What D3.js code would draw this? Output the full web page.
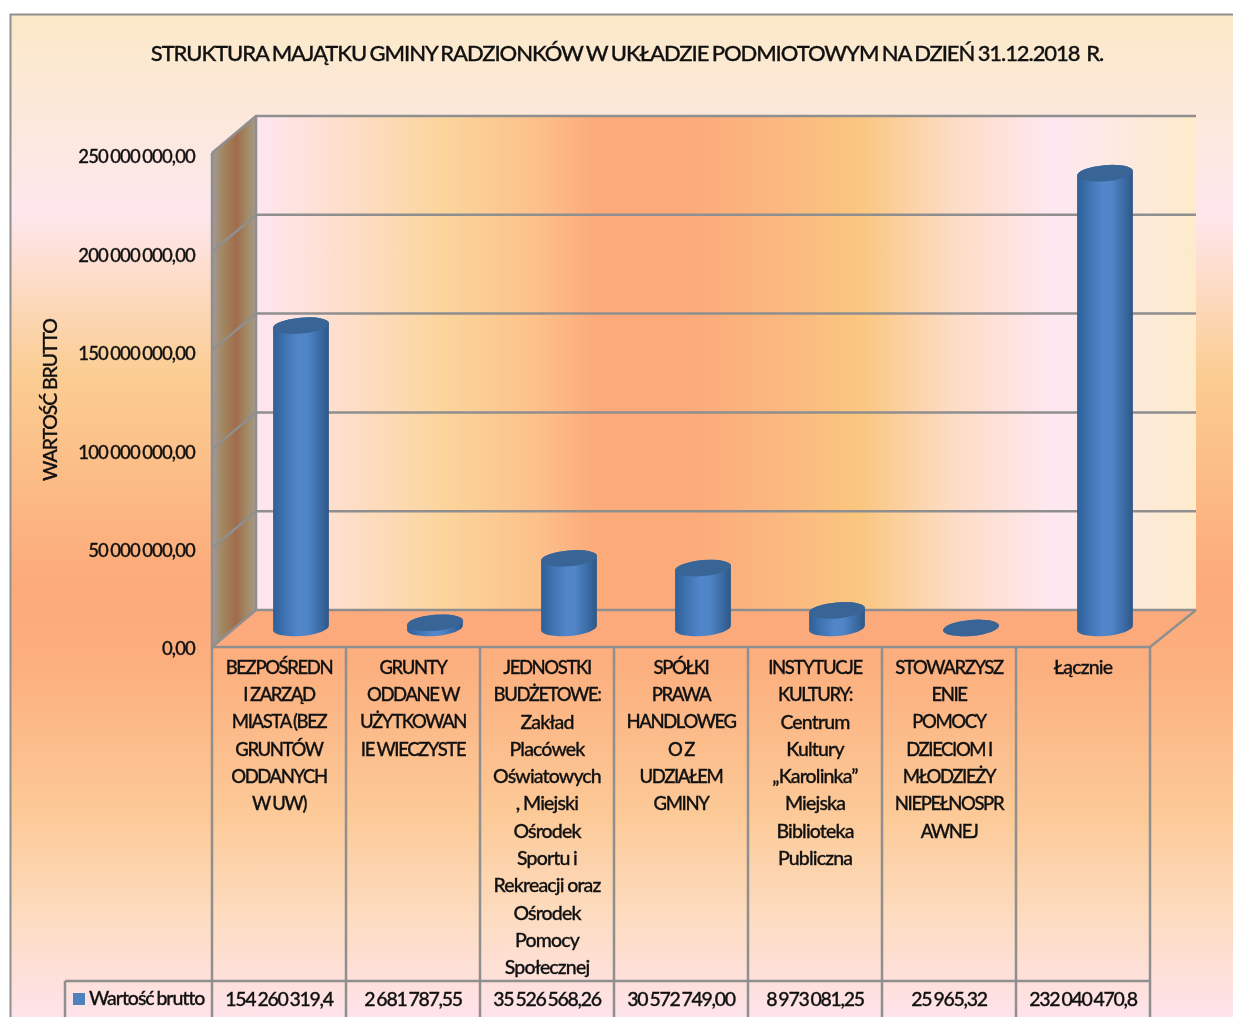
<!DOCTYPE html>
<html lang="pl">
<head>
<meta charset="utf-8">
<title>Struktura majątku</title>
<script src="https://d3js.org/d3.v7.min.js"></script>
<style>
  html, body { margin: 0; padding: 0; background: #fff; overflow: hidden; }
  svg { display: block; filter: blur(0.35px); }
  text { font-family: Lato, "Open Sans", sans-serif; fill: #111; font-weight: 500; stroke: #111; stroke-width: 0.3px; }
</style>
</head>
<body>
<div id="viz"></div>
<script>
// chart data
var titleText = "STRUKTURA MAJĄTKU GMINY RADZIONKÓW W UKŁADZIE PODMIOTOWYM NA DZIEŃ 31.12.2018  R.";
var yTitle = "WARTOŚĆ BRUTTO";
var seriesName = "Wartość brutto";
var categories = ["bezposredni", "grunty", "jednostki", "spolki", "instytucje", "stowarzyszenie", "lacznie"];
var categoryLines = [
  ["BEZPOŚREDN", "I ZARZĄD", "MIASTA (BEZ", "GRUNTÓW", "ODDANYCH", "W UW)"],
  ["GRUNTY", "ODDANE W", "UŻYTKOWAN", "IE WIECZYSTE"],
  ["JEDNOSTKI", "BUDŻETOWE:", "Zakład", "Placówek", "Oświatowych", ", Miejski", "Ośrodek", "Sportu i", "Rekreacji oraz", "Ośrodek", "Pomocy", "Społecznej"],
  ["SPÓŁKI", "PRAWA", "HANDLOWEG", "O Z", "UDZIAŁEM", "GMINY"],
  ["INSTYTUCJE", "KULTURY:", "Centrum", "Kultury", "„Karolinka”", "Miejska", "Biblioteka", "Publiczna"],
  ["STOWARZYSZ", "ENIE", "POMOCY", "DZIECIOM I", "MŁODZIEŻY", "NIEPEŁNOSPR", "AWNEJ"],
  ["Łącznie"]
];
var values = [154260319.4, 2681787.55, 35526568.26, 30572749.00, 8973081.25, 25965.32, 232040470.8];
var valueLabels = ["154 260 319,4", "2 681 787,55", "35 526 568,26", "30 572 749,00", "8 973 081,25", "25 965,32", "232 040 470,8"];
var yTicks = [0, 50000000, 100000000, 150000000, 200000000, 250000000];
var yTickLabels = ["0,00", "50 000 000,00", "100 000 000,00", "150 000 000,00", "200 000 000,00", "250 000 000,00"];

var w = 1233, h = 1017;
var lineColor = "#8f8f8f";
// depth of the 3d box
var depthX = 44, depthY = 37;

var svg = d3.select("#viz").append("svg").attr("width", w).attr("height", h);
var defs = svg.append("defs");

function gradient(id, horizontal, x1, x2, stops) {
  var g = defs.append("linearGradient").attr("id", id).attr("gradientUnits", "userSpaceOnUse");
  if (horizontal) g.attr("x1", x1).attr("x2", x2).attr("y1", 0).attr("y2", 0);
  else g.attr("x1", 0).attr("x2", 0).attr("y1", x1).attr("y2", x2);
  stops.forEach(function(s) {
    g.append("stop").attr("offset", s[0]).attr("stop-color", s[1]);
  });
}

gradient("bgGrad", false, 14, 1017, [
  [0, "#fbe9c8"], [0.14, "#fde8e2"], [0.2, "#fee6ec"], [0.36, "#fbcd92"],
  [0.57, "#fcaa7a"], [0.65, "#fcaf7e"], [0.8, "#fcca98"], [0.9, "#fddcc0"], [1, "#fee3ea"]
]);
gradient("wallGrad", true, 256, 1196, [
  [0, "#fee6f0"], [0.07, "#fee0d4"], [0.2, "#fbd59c"], [0.3, "#fcc08a"], [0.36, "#fcaa7a"],
  [0.46, "#fcaa7a"], [0.56, "#fbb880"], [0.64, "#fac67e"], [0.74, "#fddcc4"], [0.85, "#fee8f2"], [1, "#fdebcb"]
]);
gradient("sideGrad", true, 212, 256, [
  [0, "#a39a9c"], [0.25, "#a2875f"], [0.55, "#a06c4c"], [0.8, "#a28a66"], [1, "#a39a8c"]
]);

var barGrad = defs.append("linearGradient").attr("id", "barBody");
[[0, "#2f5f97"], [0.18, "#3c70ae"], [0.45, "#5186cb"], [0.62, "#4f84c6"], [0.85, "#3a6aa3"], [1, "#2f5785"]].forEach(function(s) {
  barGrad.append("stop").attr("offset", s[0]).attr("stop-color", s[1]);
});

// scales
var x = d3.scaleBand().domain(categories).range([212, 1150]);
var yFront = d3.scaleLinear().domain([0, 250000000]).range([647, 153]);
var yBack = d3.scaleLinear().domain([0, 250000000]).range([610, 116]);
var yBar = d3.scaleLinear().domain([0, 250000000]).range([628, 138]);
var yLabel = d3.scaleLinear().domain([0, 250000000]).range([649, 157]);

// chart frame
svg.append("rect").attr("x", 10.5).attr("y", 14.5).attr("width", w).attr("height", h)
  .attr("fill", "url(#bgGrad)").attr("stroke", lineColor).attr("stroke-width", 2);

// back wall, side wall, floor
svg.append("rect").attr("x", 256).attr("y", yBack(250000000))
  .attr("width", 940).attr("height", yBack(0) - yBack(250000000))
  .attr("fill", "url(#wallGrad)");

var sidePoints = [[212, yFront(250000000)], [212 + depthX, yBack(250000000)], [212 + depthX, yBack(0)], [212, yFront(0)]];
svg.append("polygon").attr("points", sidePoints.join(" ")).attr("fill", "url(#sideGrad)");

var floorPoints = [[212, yFront(0)], [212 + depthX, yBack(0)], [1196, yBack(0)], [1150, yFront(0)]];
svg.append("polygon").attr("points", floorPoints.join(" ")).attr("fill", "#fcaa7c");

// gridlines
var grid = svg.append("g").attr("stroke", lineColor).attr("stroke-width", 2.5).attr("fill", "none");
yTicks.forEach(function(t) {
  grid.append("path").attr("d", d3.line()([[212, yFront(t)], [212 + depthX, yBack(t)], [1196, yBack(t)]]));
});
grid.append("line").attr("x1", 212).attr("x2", 212).attr("y1", yFront(250000000)).attr("y2", yFront(0));
grid.append("line").attr("x1", 256).attr("x2", 256).attr("y1", yBack(250000000)).attr("y2", yBack(0));
grid.append("line").attr("x1", 1150).attr("x2", 1196).attr("y1", yFront(0)).attr("y2", yBack(0));

// cylinders, they stand half way into the floor
var rx = 28, ry = 8, tilt = -5;
var tx = rx * Math.cos(tilt * Math.PI / 180), ty = rx * Math.sin(tilt * Math.PI / 180);

var bars = svg.selectAll(".bar").data(values).enter().append("g").attr("class", "bar")
  .attr("transform", function(d, i) { return "translate(" + (x(categories[i]) + x.bandwidth() / 2 + depthX / 2) + ",0)"; });

bars.append("path")
  .attr("fill", "url(#barBody)")
  .attr("d", function(d) {
    var top = yBar(d), bot = yBar(0);
    return "M" + (-tx) + "," + (top - ty) +
      "L" + (-tx) + "," + (bot - ty) +
      "A" + rx + "," + ry + " " + tilt + " 0 0 " + tx + "," + (bot + ty) +
      "L" + tx + "," + (top + ty) +
      "A" + rx + "," + ry + " " + tilt + " 0 0 " + (-tx) + "," + (top - ty) + "Z";
  });

bars.append("ellipse")
  .attr("rx", rx).attr("ry", ry)
  .attr("fill", "#386596")
  .attr("transform", function(d) { return "translate(0," + yBar(d) + ") rotate(" + tilt + ")"; });

// y axis labels
var axis = d3.axisLeft(yLabel)
  .tickValues(yTicks)
  .tickSize(0)
  .tickFormat(function(d, i) { return yTickLabels[i]; });
var axisG = svg.append("g").attr("transform", "translate(195,0)").call(axis);
axisG.select(".domain").remove();
axisG.selectAll("text")
  .attr("x", 0)
  .style("font-family", "Lato, sans-serif")
  .style("font-size", "18.5px")
  .style("letter-spacing", "-0.85px")
  .style("word-spacing", "-1.5px");

svg.append("text")
  .attr("transform", "translate(52,400) rotate(-90)")
  .attr("text-anchor", "middle").attr("dominant-baseline", "middle")
  .style("font-size", "19.5px").style("letter-spacing", "-1.1px")
  .text(yTitle);

// title
svg.append("text").attr("x", 627).attr("y", 55)
  .attr("text-anchor", "middle").attr("dominant-baseline", "middle")
  .style("white-space", "pre")
  .style("font-size", "22px").style("letter-spacing", "-1.08px").style("word-spacing", "-1px")
  .text(titleText);

// data table
var table = svg.append("g").attr("stroke", lineColor).attr("stroke-width", 2.5);
categories.concat(["end"]).forEach(function(c, i) {
  var px = i < categories.length ? x(c) : x.range()[1];
  table.append("line").attr("x1", px).attr("x2", px).attr("y1", yFront(0)).attr("y2", h);
});
table.append("line").attr("x1", 212).attr("x2", 1150).attr("y1", yFront(0)).attr("y2", yFront(0));
table.append("line").attr("x1", 65).attr("x2", 1150).attr("y1", 981).attr("y2", 981);
table.append("line").attr("x1", 65).attr("x2", 65).attr("y1", 981).attr("y2", h);

// capitals run narrower than lower case in the source
function isCaps(s) { return s === s.toUpperCase(); }

var labels = svg.selectAll(".cat").data(categoryLines).enter().append("g").attr("class", "cat")
  .attr("transform", function(d, i) { return "translate(" + (x(categories[i]) + x.bandwidth() / 2) + ",0)"; });
labels.selectAll("text").data(function(d) { return d; }).enter().append("text")
  .attr("y", function(d, i) { return 669 + i * 27.3; })
  .attr("text-anchor", "middle").attr("dominant-baseline", "middle")
  .style("font-size", function(d) { return isCaps(d) ? "18.5px" : "19.5px"; })
  .style("letter-spacing", function(d) { return isCaps(d) ? "-1.4px" : "-0.85px"; })
  .style("word-spacing", "-0.5px")
  .text(function(d) { return d; });

svg.selectAll(".val").data(valueLabels).enter().append("text").attr("class", "val")
  .attr("x", function(d, i) { return x(categories[i]) + x.bandwidth() / 2; })
  .attr("y", 1001)
  .attr("text-anchor", "middle").attr("dominant-baseline", "middle")
  .style("font-size", "19.5px").style("letter-spacing", "-1.3px").style("word-spacing", "-1.5px")
  .text(function(d) { return d; });

// legend key
svg.append("rect").attr("x", 73).attr("y", 993).attr("width", 12).attr("height", 12).attr("fill", "#4f81bd");
svg.append("text").attr("x", 89).attr("y", 1000).attr("dominant-baseline", "middle")
  .style("font-size", "19.5px").style("letter-spacing", "-1.05px").style("word-spacing", "-1px")
  .text(seriesName);
</script>
</body>
</html>
